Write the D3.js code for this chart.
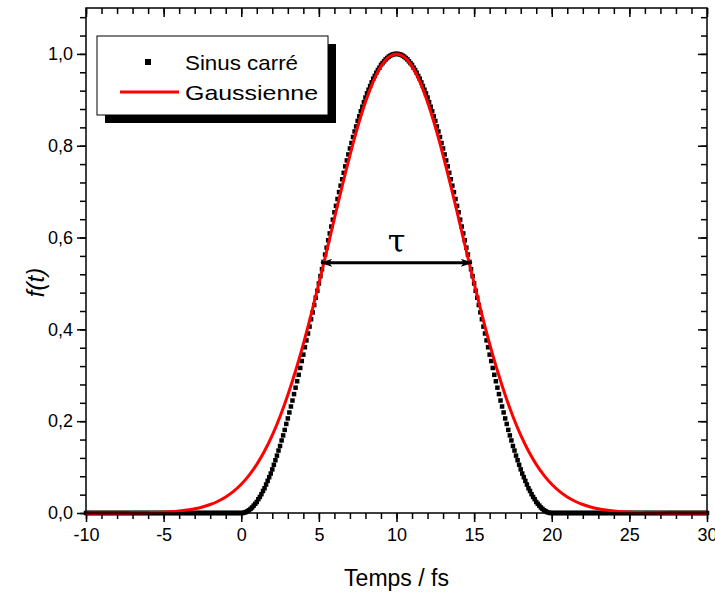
<!DOCTYPE html>
<html><head>
<meta charset="utf-8">
<title>Sinus carré / Gaussienne</title>
<style>
  body {margin:0; background:#fff;}
  svg text {font-family:"Liberation Sans", Arial, sans-serif;}
</style>
</head>
<body>
<script src="https://d3js.org/d3.v7.min.js"></script>
<script>
// sampling grid of the "Sinus carré" series: -10 .. 30 fs, 0.1 fs step
var sinStart = -10, sinStep = 0.1;
// f(t) values of the squares (zero outside 0..20 fs)
var sinZeros = [0,0,0,0,0,0,0,0,0,0,0,0,0,0,0,0,0,0,0,0,0,0,0,0,0,0,0,0,0,0,0,0,0,0,0,0,0,0,0,0,0,0,0,0,0,0,0,0,0,0,0,0,0,0,0,0,0,0,0,0,0,0,0,0,0,0,0,0,0,0,0,0,0,0,0,0,0,0,0,0,0,0,0,0,0,0,0,0,0,0,0,0,0,0,0,0,0,0,0,0];
var sinRise = [0.000,0.000,0.001,0.002,0.004,0.006,0.009,0.012,0.016,0.020,
               0.024,0.030,0.035,0.041,0.048,0.054,0.062,0.070,0.078,0.086,
               0.095,0.105,0.115,0.125,0.136,0.146,0.158,0.169,0.181,0.194,
               0.206,0.219,0.232,0.245,0.259,0.273,0.287,0.301,0.316,0.331,
               0.345,0.361,0.376,0.391,0.406,0.422,0.437,0.453,0.469,0.484,
               0.500,0.516,0.531,0.547,0.563,0.578,0.594,0.609,0.624,0.639,
               0.655,0.669,0.684,0.699,0.713,0.727,0.741,0.755,0.768,0.781,
               0.794,0.806,0.819,0.831,0.842,0.854,0.864,0.875,0.885,0.895,
               0.905,0.914,0.922,0.930,0.938,0.946,0.952,0.959,0.965,0.970,
               0.976,0.980,0.984,0.988,0.991,0.994,0.996,0.998,0.999,1.000,1.000];
var sinFall = [1.000,0.999,0.998,0.996,0.994,0.991,0.988,0.984,0.980,0.976,
               0.970,0.965,0.959,0.952,0.946,0.938,0.930,0.922,0.914,0.905,
               0.895,0.885,0.875,0.864,0.854,0.842,0.831,0.819,0.806,0.794,
               0.781,0.768,0.755,0.741,0.727,0.713,0.699,0.684,0.669,0.655,
               0.639,0.624,0.609,0.594,0.578,0.563,0.547,0.531,0.516,0.500,
               0.484,0.469,0.453,0.437,0.422,0.406,0.391,0.376,0.361,0.345,
               0.331,0.316,0.301,0.287,0.273,0.259,0.245,0.232,0.219,0.206,
               0.194,0.181,0.169,0.158,0.146,0.136,0.125,0.115,0.105,0.095,
               0.086,0.078,0.070,0.062,0.054,0.048,0.041,0.035,0.030,0.024,
               0.020,0.016,0.012,0.009,0.006,0.004,0.002,0.001,0.000,0.000];
var sinValues = sinZeros.concat(sinRise, sinFall, sinZeros);

// Gaussian curve, every 0.5 fs from -10 to 30
var gaussTimes = [-10,-9.5,-9,-8.5,-8,-7.5,-7,-6.5,-6,-5.5,-5,-4.5,-4,-3.5,-3,-2.5,-2,-1.5,-1,-0.5,
                  0,0.5,1,1.5,2,2.5,3,3.5,4,4.5,5,5.5,6,6.5,7,7.5,8,8.5,9,9.5,
                  10,10.5,11,11.5,12,12.5,13,13.5,14,14.5,15,15.5,16,16.5,17,17.5,18,18.5,19,19.5,
                  20,20.5,21,21.5,22,22.5,23,23.5,24,24.5,25,25.5,26,26.5,27,27.5,28,28.5,29,29.5,30];
var gaussValues = [0.0000,0.0000,0.0000,0.0001,0.0001,0.0002,0.0003,0.0005,0.0008,0.0013,
                   0.0020,0.0029,0.0044,0.0064,0.0092,0.0131,0.0185,0.0256,0.0349,0.0470,
                   0.0625,0.0819,0.1058,0.1349,0.1696,0.2102,0.2570,0.3099,0.3686,0.4323,
                   0.5000,0.5704,0.6417,0.7120,0.7792,0.8409,0.8950,0.9395,0.9727,0.9931,
                   1.0000,
                   0.9931,0.9727,0.9395,0.8950,0.8409,0.7792,0.7120,0.6417,0.5704,0.5000,
                   0.4323,0.3686,0.3099,0.2570,0.2102,0.1696,0.1349,0.1058,0.0819,0.0625,
                   0.0470,0.0349,0.0256,0.0185,0.0131,0.0092,0.0064,0.0044,0.0029,0.0020,
                   0.0013,0.0008,0.0005,0.0003,0.0002,0.0001,0.0001,0.0000,0.0000,0.0000];

var xTicks = [-10,-5,0,5,10,15,20,25,30];
var yTicks = [0,0.2,0.4,0.6,0.8,1.0];
var seriesNames = ["Sinus carré","Gaussienne"];
// tau annotation: arrow between the two flanks
var tauLevel = 0.545, tauFrom = 5.15, tauTo = 14.85;

var width = 715, height = 594;
var plotL = 86, plotR = 707, plotT = 8, plotB = 513;

var x = d3.scaleLinear().domain([-10, 30]).range([plotL, plotR]);
var y = d3.scaleLinear().domain([0, 1.1]).range([plotB, plotT]);

var svg = d3.select("body").append("svg")
    .attr("width", width).attr("height", height);

var defs = svg.append("defs");
defs.append("marker").attr("id","ah")
    .attr("viewBox","0 0 12 8").attr("refX",11).attr("refY",4)
    .attr("markerWidth",12).attr("markerHeight",8)
    .attr("markerUnits","userSpaceOnUse")
    .attr("orient","auto-start-reverse")
    .append("path").attr("d","M0,0 L12,4 L0,8 L3,4 Z").attr("fill","#000");

var fmtY = function(d){ return d3.format(".1f")(d).replace(".", ","); };
var fmtX = function(d){ return String(d); };
var xMinor = d3.range(-10, 30.01, 1);
var yMinor = d3.range(0, 1.101, 0.04);

// axes: bottom/left outward, top/right mirrored inward
svg.append("g").attr("transform","translate(0,"+plotB+")")
    .call(d3.axisBottom(x).tickValues(xMinor).tickSize(6).tickFormat(""));
svg.append("g").attr("transform","translate(0,"+plotB+")")
    .call(d3.axisBottom(x).tickValues(xTicks).tickSize(9).tickPadding(6).tickFormat(fmtX));
svg.append("g").attr("transform","translate(0,"+plotT+")")
    .call(d3.axisTop(x).tickValues(xMinor).tickSize(-6).tickFormat(""));
svg.append("g").attr("transform","translate(0,"+plotT+")")
    .call(d3.axisTop(x).tickValues(xTicks).tickSize(-9).tickFormat(""));
svg.append("g").attr("transform","translate("+plotL+",0)")
    .call(d3.axisLeft(y).tickValues(yMinor).tickSize(6).tickFormat(""));
svg.append("g").attr("transform","translate("+plotL+",0)")
    .call(d3.axisLeft(y).tickValues(yTicks).tickSize(9).tickPadding(4).tickFormat(fmtY));
svg.append("g").attr("transform","translate("+plotR+",0)")
    .call(d3.axisRight(y).tickValues(yMinor).tickSize(-6).tickFormat(""));
svg.append("g").attr("transform","translate("+plotR+",0)")
    .call(d3.axisRight(y).tickValues(yTicks).tickSize(-9).tickFormat(""));

svg.selectAll(".domain").remove();
svg.selectAll(".tick line").attr("stroke","#000").attr("stroke-width",1.5);
svg.selectAll(".tick text").attr("font-size",18).attr("fill","#000")
    .style("font-family","'Liberation Sans', Arial, sans-serif");

// squares
var sinData = sinValues.map(function(v,i){ return [sinStart + i*sinStep, v]; });
svg.append("g").selectAll("rect").data(sinData).enter().append("rect")
    .attr("x", function(d){ return x(d[0]) - 2.25; })
    .attr("y", function(d){ return y(d[1]) - 2.25; })
    .attr("width", 4.5).attr("height", 4.5).attr("fill", "#000");

// gaussian
var line = d3.line()
    .x(function(d){ return x(d[0]); })
    .y(function(d){ return y(d[1]); })
    .curve(d3.curveCatmullRom);
svg.append("path")
    .datum(gaussTimes.map(function(t,i){ return [t, gaussValues[i]]; }))
    .attr("d", line).attr("fill","none").attr("stroke","#ff0000").attr("stroke-width",3);

// frame
svg.append("rect").attr("x",plotL).attr("y",plotT)
    .attr("width",plotR-plotL).attr("height",plotB-plotT)
    .attr("fill","none").attr("stroke","#000").attr("stroke-width",1.5);

// tau arrow
svg.append("line")
    .attr("x1", x(tauFrom)).attr("x2", x(tauTo))
    .attr("y1", y(tauLevel)).attr("y2", y(tauLevel))
    .attr("stroke","#000").attr("stroke-width",3)
    .attr("marker-start","url(#ah)").attr("marker-end","url(#ah)");
svg.append("text").attr("x", x(10)).attr("y", y(tauLevel) - 11)
    .attr("text-anchor","middle").attr("font-size",32)
    .style("font-family","'DejaVu Serif', serif")
    .text("τ");

// legend
var lg = svg.append("g");
lg.append("rect").attr("x",105).attr("y",44).attr("width",231).attr("height",79).attr("fill","#000");
lg.append("rect").attr("x",97).attr("y",36).attr("width",231).attr("height",79)
    .attr("fill","#fff").attr("stroke","#000").attr("stroke-width",1);
lg.append("rect").attr("x",145).attr("y",59).attr("width",6).attr("height",6).attr("fill","#000");
lg.append("line").attr("x1",120).attr("x2",179).attr("y1",92).attr("y2",92)
    .attr("stroke","#ff0000").attr("stroke-width",3);
lg.append("text").attr("x",185).attr("y",70).attr("font-size",21)
    .attr("textLength",113).attr("lengthAdjust","spacingAndGlyphs").text(seriesNames[0]);
lg.append("text").attr("x",185).attr("y",100).attr("font-size",21)
    .attr("textLength",133).attr("lengthAdjust","spacingAndGlyphs").text(seriesNames[1]);

// axis titles
svg.append("text").attr("x",(plotL+plotR)/2).attr("y",586)
    .attr("text-anchor","middle").attr("font-size",23).text("Temps / fs");
svg.append("text").attr("transform","translate(44,"+((plotT+plotB)/2+22)+") rotate(-90)")
    .attr("text-anchor","middle").attr("font-size",24).attr("font-style","italic").text("f(t)");
</script>
</body></html>
